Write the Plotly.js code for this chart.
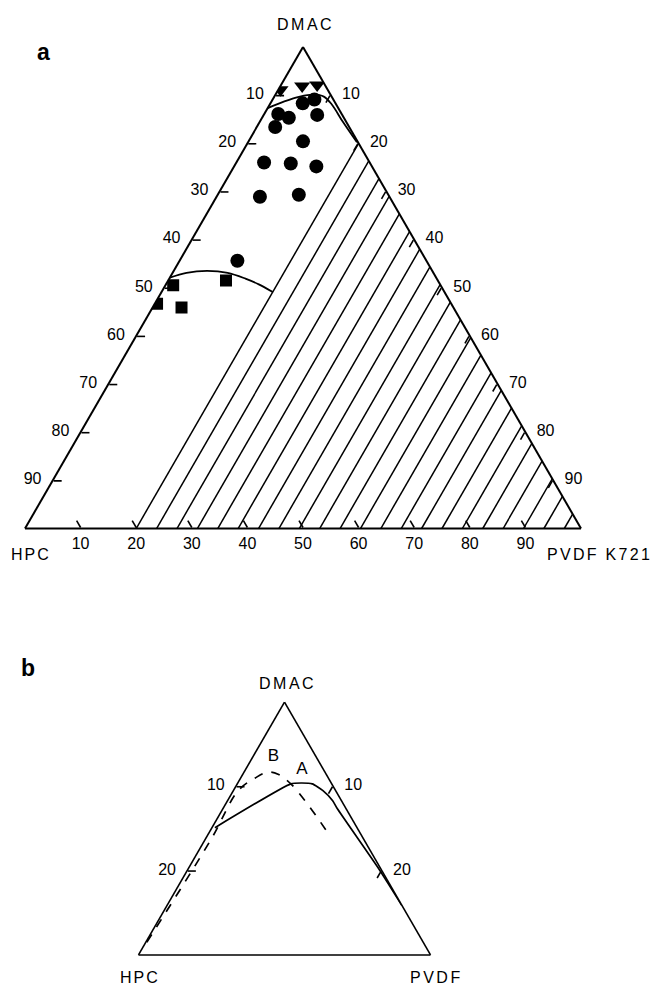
<!DOCTYPE html>
<html><head><meta charset="utf-8">
<script src="https://cdn.plot.ly/plotly-3.0.1.min.js"></script>
<style>html,body{margin:0;padding:0;background:#fff;}#chart{width:654px;height:987px;}</style>
</head><body><div id="chart"></div>
<script>
// ---------- Diagram a (wt%): DMAC = a, HPC = b, PVDF K721 = c ----------
const triDMAC = [91.1, 91.9, 92.1];
const triHPC  = [8.5, 4.2, 1.4];
const triPVDF = [0.4, 3.9, 6.5];

const circDMAC = [86.1, 85.3, 83.4, 88.3, 89.1, 85.9, 80.4, 76.0, 75.8, 75.2, 68.9, 69.3, 55.6];
const circHPC  = [11.4, 9.9, 13.3, 5.9, 3.4, 4.5, 9.8, 19.0, 14.3, 10.0, 23.3, 16.1, 34.0];
const circPVDF = [2.5, 4.8, 3.3, 5.8, 7.5, 9.6, 9.8, 5.0, 9.9, 14.8, 7.8, 14.6, 10.4];

const sqDMAC = [50.5, 51.5, 46.7, 45.9];
const sqHPC  = [48.1, 38.1, 52.9, 48.9];
const sqPVDF = [1.4, 10.4, 0.4, 5.2];

const upperDMAC = [87.3, 88.7, 89.7, 90.1, 89.7, 88.1, 84.4, 80.2];
const upperHPC  = [12.7, 9.0, 5.7, 3.1, 1.4, 0.8, 0.6, 0.2];
const upperPVDF = [0.0, 2.3, 4.6, 6.8, 8.9, 11.1, 15.0, 19.6];

const lowerDMAC = [52.1, 53.1, 53.5, 53.1, 51.9, 50.7, 49.1];
const lowerHPC  = [47.9, 44.4, 40.5, 37.0, 34.4, 32.6, 30.9];
const lowerPVDF = [0.0, 2.5, 6.0, 9.9, 13.7, 16.7, 20.0];

// hatched region: PVDF >= 20
const hatchFrom = 20, hatchTo = 97, hatchCount = 22;

const tickValues = [10, 20, 30, 40, 50, 60, 70, 80, 90];

// ---------- Diagram b (wt%, DMAC 70-100) ----------
const aDMAC = [85.1, 90.3, 90.4, 90.3, 89.5, 88.3, 87.4, 80.2, 75.9];
const aHPC  = [14.6, 4.2, 3.1, 2.0, 1.3, 0.9, 0.9, 0.2, 0.0];
const aPVDF = [0.3, 5.5, 6.5, 7.7, 9.2, 10.8, 11.7, 19.6, 24.1];

const bDMAC = [71.5, 83.7, 89.5, 91.0, 91.7, 91.4, 90.3, 88.0, 84.5];
const bHPC  = [28.4, 15.7, 10.0, 7.5, 5.8, 4.9, 4.2, 3.7, 3.3];
const bPVDF = [0.1, 0.6, 0.5, 1.5, 2.5, 3.7, 5.5, 8.3, 12.2];

const curveLabels = ['B', 'A'];
const labelDMAC = [93.5, 92.0];
const labelHPC  = [4.4, 2.2];
const labelPVDF = [2.1, 5.8];

const smallTicks = [10, 20];

// ---------- build ----------
const FONT = 'Liberation Sans, Arial, Helvetica, sans-serif';
const W = 654, H = 987;
const NB = '\u00a0';
const traces = [];

for (let k = 0; k < hatchCount; k++) {
  const cv = hatchFrom + k * (hatchTo - hatchFrom) / (hatchCount - 1);
  traces.push({type:'scatterternary', subplot:'ternary', mode:'lines',
    a:[0, 100 - cv], b:[100 - cv, 0], c:[cv, cv],
    line:{color:'#000', width:1.5}, hoverinfo:'skip', showlegend:false});
}
traces.push({type:'scatterternary', subplot:'ternary', mode:'lines',
  a:upperDMAC, b:upperHPC, c:upperPVDF, line:{color:'#000', width:1.8, shape:'spline'},
  hoverinfo:'skip', showlegend:false});
traces.push({type:'scatterternary', subplot:'ternary', mode:'lines',
  a:lowerDMAC, b:lowerHPC, c:lowerPVDF, line:{color:'#000', width:1.8, shape:'spline'},
  hoverinfo:'skip', showlegend:false});
traces.push({type:'scatterternary', subplot:'ternary', mode:'markers',
  a:circDMAC, b:circHPC, c:circPVDF, marker:{symbol:'circle', size:14, color:'#000'},
  hoverinfo:'skip', showlegend:false});
traces.push({type:'scatterternary', subplot:'ternary', mode:'markers',
  a:sqDMAC, b:sqHPC, c:sqPVDF, marker:{symbol:'square', size:12, color:'#000'},
  hoverinfo:'skip', showlegend:false});
traces.push({type:'scatterternary', subplot:'ternary', mode:'markers',
  a:triDMAC, b:triHPC, c:triPVDF, marker:{symbol:'triangle-down', size:14, color:'#000'},
  hoverinfo:'skip', showlegend:false});

traces.push({type:'scatterternary', subplot:'ternary2', mode:'lines',
  a:aDMAC, b:aHPC, c:aPVDF, line:{color:'#000', width:1.7, shape:'spline', smoothing:0.5},
  hoverinfo:'skip', showlegend:false});
traces.push({type:'scatterternary', subplot:'ternary2', mode:'lines',
  a:bDMAC, b:bHPC, c:bPVDF, line:{color:'#000', width:1.7, dash:'dash', shape:'spline'},
  hoverinfo:'skip', showlegend:false});
traces.push({type:'scatterternary', subplot:'ternary2', mode:'text',
  a:labelDMAC, b:labelHPC, c:labelPVDF, text:curveLabels,
  textfont:{family:FONT, size:17, color:'#000'}, hoverinfo:'skip', showlegend:false});

function ax(vals, labels, show, size) {
  return {
    title:{text:''}, showgrid:false, showline:true, linecolor:'#000', linewidth:2,
    ticks: show ? 'inside' : '', ticklen:8, tickwidth:1.6, tickcolor:'#000',
    tickmode:'array', tickvals: vals, ticktext: labels, showticklabels: show,
    tickfont:{family:FONT, size:size || 16, color:'#000'}
  };
}
const rev = v => 100 - v;
const padR = v => String(v) + NB + NB;
const padL = v => NB + NB + String(v);
const lab = v => String(v);

function px(x0, x1) { return [x0 / W, x1 / W]; }
function py(top, bottom) { return [1 - bottom / H, 1 - top / H]; }
const sp = (t, s) => '<span style="letter-spacing:' + s + 'px">' + t + '</span>';

const layout = {
  width:W, height:H, margin:{l:0, r:0, t:0, b:0},
  paper_bgcolor:'#fff', plot_bgcolor:'#fff', showlegend:false,
  ternary:{
    domain:{x:px(25, 581), y:py(47, 528.5)}, sum:100, bgcolor:'rgba(0,0,0,0)',
    aaxis: ax(tickValues.map(rev), tickValues.map(padR), true),
    baxis: ax(tickValues.map(rev), tickValues.map(lab), true),
    caxis: ax(tickValues, tickValues.map(padL), true)
  },
  ternary2:{
    domain:{x:px(138.5, 430.5), y:py(702, 955)}, sum:100, bgcolor:'rgba(0,0,0,0)',
    aaxis: Object.assign(ax(smallTicks.map(rev), smallTicks.map(padR), true), {min:70, linewidth:1.6}),
    baxis: Object.assign(ax([], [], false), {linewidth:1.6}),
    caxis: Object.assign(ax(smallTicks, smallTicks.map(padL), true), {linewidth:1.6})
  },
  annotations:[
    {text:'<b>a</b>', x:43/W, y:1-52/H, font:{family:FONT, size:23, color:'#000'}},
    {text:sp('DMAC', 2.5), x:305/W, y:1-24/H, font:{family:FONT, size:16, color:'#000'}},
    {text:sp('HPC', 2), x:31/W, y:1-554/H, font:{family:FONT, size:16, color:'#000'}},
    {text:sp('PVDF K721', 2.3), x:545/W, y:1-554/H, xanchor:'left', font:{family:FONT, size:16, color:'#000'}},
    {text:'<b>b</b>', x:28/W, y:1-668/H, font:{family:FONT, size:23, color:'#000'}},
    {text:sp('DMAC', 2.5), x:287/W, y:1-683/H, font:{family:FONT, size:16, color:'#000'}},
    {text:sp('HPC', 2), x:140/W, y:1-977/H, font:{family:FONT, size:16, color:'#000'}},
    {text:sp('PVDF', 2.5), x:436/W, y:1-977/H, font:{family:FONT, size:16, color:'#000'}}
  ].map(a => Object.assign({xref:'paper', yref:'paper', showarrow:false, xanchor:'center', yanchor:'middle'}, a))
};

Plotly.newPlot('chart', traces, layout, {displayModeBar:false, staticPlot:true});
</script></body></html>
